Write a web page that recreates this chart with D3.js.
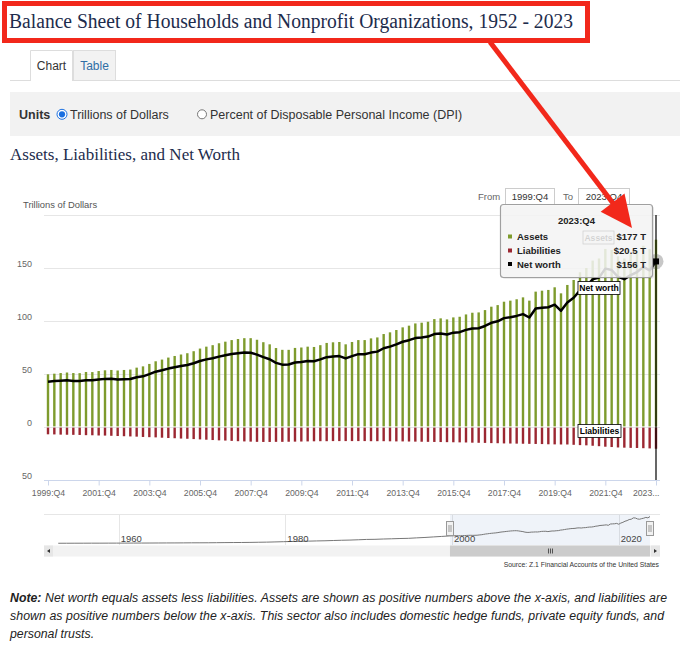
<!DOCTYPE html>
<html><head><meta charset="utf-8">
<script src="https://cdn.jsdelivr.net/npm/d3@7"></script>
<style>
body{margin:0;background:#fff;}
svg{display:block;font-family:"Liberation Sans",Arial,Helvetica,sans-serif;}
</style></head><body>
<svg id="c" width="680" height="653"></svg>
<script>
// ---------------- DATA ----------------
const startYear = 1999, startQ = 4, endYear = 2023, endQ = 4;
const quarters = [];
for (let y = startYear; y <= endYear; y++) for (let q = 1; q <= 4; q++) {
  if (y === startYear && q < startQ) continue;
  if (y === endYear && q > endQ) continue;
  quarters.push(y + ":Q" + q);
}
// Trillions of dollars, 1999:Q4 .. 2023:Q4
const assets = [49.7,50.3,50.9,51.4,50.9,50.8,51.9,51.8,52.8,53.5,
  53.8,53.3,53.8,54.2,56.0,57.2,59.5,62.0,63.6,65.5,
  67.0,68.4,69.6,71.5,74.0,75.8,77.2,79.0,80.5,82.0,
  83.0,83.8,83.8,82.3,80.0,78.0,74.5,72.8,72.8,74.6,
  75.0,75.8,75.5,77.2,79.3,79.9,80.2,78.0,80.2,82.0,
  82.0,83.6,84.5,87.7,89.3,91.5,94.0,95.6,97.7,98.4,
  99.3,101.8,102.5,101.5,103.4,104.0,106.2,107.8,108.1,110.3,
  113.5,115.0,118.2,119.2,120.5,122.3,119.2,127.7,128.6,129.3,
  131.8,126.1,134.0,138.7,146.0,150.0,157.0,159.0,168.0,167.0,
  161.0,159.0,163.0,166.0,171.0,168.0,176.7];
const liabilities = [6.9,7.0,7.2,7.3,7.4,
  7.5,7.7,7.8,8.0, 8.1,8.3,8.5,8.7, 8.9,9.1,9.4,9.6, 9.8,10.1,10.4,10.6,
  10.9,11.1,11.4,11.7, 12.0,12.3,12.6,12.8, 13.1,13.4,13.6,13.8, 14.0,14.1,14.1,14.0,
  14.0,13.9,13.8,13.7, 13.6,13.5,13.4,13.4, 13.3,13.3,13.3,13.3, 13.3,13.3,13.4,13.4,
  13.4,13.5,13.6,13.6, 13.7,13.8,13.9,14.0, 14.1,14.2,14.3,14.4, 14.5,14.6,14.8,14.9,
  15.0,15.2,15.3,15.5, 15.6,15.7,15.8,15.9, 16.0,16.1,16.3,16.4, 16.5,16.5,16.8,17.1,
  17.3,17.7,18.1,18.6, 18.9,19.3,19.5,19.7, 19.8,20.0,20.2,20.5];
const netWorth = [42.8,43.3,43.7,44.1,43.5,
  43.3,44.2,44.0,44.8, 45.4,45.5,44.8,45.1, 45.3,46.9,47.8,49.9, 52.2,53.5,55.1,56.4,
  57.5,58.5,60.1,62.3, 63.8,64.9,66.4,67.7, 68.9,69.6,70.2,70.0, 68.3,65.9,63.9,60.5,
  58.8,58.9,60.8,61.3, 62.2,62.0,63.8,65.9, 66.6,66.9,64.7,66.9, 68.7,68.7,70.2,71.1,
  74.3,75.8,77.9,80.4, 81.9,83.9,84.5,85.3, 87.7,88.3,87.2,89.0, 89.5,91.6,93.0,93.2,
  95.3,98.3,99.7,102.7, 103.6,104.8,106.5,103.3, 111.7,112.5,113.0,115.4, 109.6,117.5,121.9,128.9,
  132.7,139.3,140.9,149.4, 148.1,141.7,139.5,143.3, 146.2,151.0,147.8,156.2];
// navigator history (annual, Q4), 1952..1998
const historyYears = [1952,1953,1954,1955,1956,1957,1958,1959,1960,1961,1962,1963,1964,1965,1966,1967,
  1968,1969,1970,1971,1972,1973,1974,1975,1976,1977,1978,1979,1980,1981,1982,1983,1984,1985,1986,1987,
  1988,1989,1990,1991,1992,1993,1994,1995,1996,1997,1998];
const historyAssets = [1.6,1.7,1.9,2.0,2.2,2.2,2.4,2.5,2.6,2.8,2.9,3.1,3.3,3.6,3.7,4.1,
  4.5,4.6,4.8,5.3,5.9,6.3,6.6,7.2,8.1,9.0,10.3,11.8,13.3,14.4,15.4,16.8,17.9,19.6,21.3,22.5,
  24.4,26.7,27.4,29.4,30.9,32.6,33.9,36.9,39.6,43.1,46.4];
const xTickLabels = ["1999:Q4","2001:Q4","2003:Q4","2005:Q4","2007:Q4","2009:Q4","2011:Q4",
  "2013:Q4","2015:Q4","2017:Q4","2019:Q4","2021:Q4","2023:Q4"];
const yTicks = [-50,0,50,100,150,200];
const yLabelTicks = [-50,0,50,100,150];
const navYearTicks = [1960,1980,2000,2020];
const seriesNames = ["Assets","Liabilities","Net worth"];
const tooltipValues = ["$177 T","$20.5 T","$156 T"];

// ---------------- STYLE ----------------
const GREEN = "#7e9b2d", RED = "#9b2731", RED_MARK = "#f2281b", NAVY = "#1d2c4c";
const svg = d3.select("#c");
svg.append("rect").attr("width",680).attr("height",653).attr("fill","#fff");

// Title
svg.append("text").attr("x",9).attr("y",28)
  .attr("font-family","'Liberation Serif','DejaVu Serif',serif").attr("font-size",20)
  .attr("fill",NAVY).attr("textLength",564).attr("lengthAdjust","spacingAndGlyphs")
  .text("Balance Sheet of Households and Nonprofit Organizations, 1952 - 2023");

// Tabs
svg.append("line").attr("x1",10).attr("x2",680).attr("y1",80.5).attr("y2",80.5).attr("stroke","#ddd");
svg.append("rect").attr("x",30.5).attr("y",50.5).attr("width",42).attr("height",31).attr("fill","#fff").attr("stroke","none");
svg.append("path").attr("d","M30.5,81 V50.5 H72.5 V81").attr("fill","none").attr("stroke","#ddd");
svg.append("text").attr("x",51.5).attr("y",69.5).attr("text-anchor","middle").attr("font-size",12).attr("fill","#333").text("Chart");
svg.append("rect").attr("x",73.5).attr("y",50.5).attr("width",42).attr("height",30).attr("fill","#f2f2f2").attr("stroke","#ddd");
svg.append("text").attr("x",94.5).attr("y",69.5).attr("text-anchor","middle").attr("font-size",12).attr("fill","#2f6ea5").text("Table");

// Units bar
svg.append("rect").attr("x",10).attr("y",92).attr("width",670).attr("height",44).attr("fill","#f2f2f2");
svg.append("text").attr("x",19).attr("y",118.5).attr("font-size",12.5).attr("font-weight","bold").attr("fill","#333").text("Units");
svg.append("circle").attr("cx",62).attr("cy",114.3).attr("r",5).attr("fill","#fff").attr("stroke","#1a6fe0");
svg.append("circle").attr("cx",62).attr("cy",114.3).attr("r",3.1).attr("fill","#1a6fe0");
svg.append("text").attr("x",70).attr("y",118.5).attr("font-size",12.5).attr("fill","#333").text("Trillions of Dollars");
svg.append("circle").attr("cx",202).attr("cy",114.3).attr("r",4.5).attr("fill","#fff").attr("stroke","#777");
svg.append("text").attr("x",210).attr("y",118.5).attr("font-size",12.5).attr("fill","#333").text("Percent of Disposable Personal Income (DPI)");

// Subtitle
svg.append("text").attr("x",10).attr("y",160).attr("font-family","'Liberation Serif','DejaVu Serif',serif")
  .attr("font-size",17).attr("fill",NAVY).attr("textLength",230).attr("lengthAdjust","spacingAndGlyphs")
  .text("Assets, Liabilities, and Net Worth");

// ---------------- SCALES ----------------
const x = d3.scalePoint().domain(quarters).range([48,656]);
const y = d3.scaleLinear().domain([-50,200]).range([480,215]);
const PL = 44, PR = 660;

// axis title
svg.append("text").attr("x",23).attr("y",208).attr("font-size",9.4).attr("fill","#555").text("Trillions of Dollars");

// gridlines
svg.append("g").selectAll("line").data(yTicks.filter(d => d !== -50)).join("line")
  .attr("x1",PL).attr("x2",PR).attr("y1",d => Math.round(y(d))+0.5).attr("y2",d => Math.round(y(d))+0.5)
  .attr("stroke","#e6e6e6");

// y axis labels
const yAxis = svg.append("g").attr("transform","translate(32,0)")
  .call(d3.axisLeft(y).tickValues(yLabelTicks).tickSize(0).tickPadding(0).tickFormat(d => Math.abs(d)));
yAxis.select(".domain").remove();
yAxis.selectAll("text").attr("font-size",9).attr("fill","#666").attr("font-family","'Liberation Sans',Arial,sans-serif")
  .attr("dy",-1.5);

// bars
const barW = 2.4;
svg.append("g").selectAll("rect").data(quarters).join("rect")
  .attr("x",(d) => x(d)-barW/2).attr("width",barW)
  .attr("y",(d,i) => y(assets[i])).attr("height",(d,i) => y(0)-y(assets[i])-0.6)
  .attr("fill",GREEN);
svg.append("g").selectAll("rect").data(quarters).join("rect")
  .attr("x",(d) => x(d)-barW/2).attr("width",barW)
  .attr("y",y(0)+0.6).attr("height",(d,i) => y(-liabilities[i])-y(0)-0.6)
  .attr("fill",RED);

// x axis
svg.append("line").attr("x1",PL).attr("x2",PR).attr("y1",480.5).attr("y2",480.5).attr("stroke","#ccd6eb");
const xAxis = svg.append("g").attr("transform","translate(0,480.5)")
  .call(d3.axisBottom(x).tickValues(xTickLabels).tickSize(5).tickFormat(d => d === "2023:Q4" ? "2023..." : d));
xAxis.select(".domain").remove();
xAxis.selectAll("line").attr("stroke","#ccd6eb");
xAxis.selectAll("text").attr("font-size",8.7).attr("fill","#666").attr("font-family","'Liberation Sans',Arial,sans-serif")
  .attr("y",15).attr("dy",0);
xAxis.selectAll(".tick").filter(d => d === "2023:Q4").select("text").attr("text-anchor","end").attr("x",3);

// net worth line
svg.append("path").datum(quarters)
  .attr("d", d3.line().x(d => x(d)).y((d,i) => y(netWorth[i])))
  .attr("fill","none").attr("stroke","#000").attr("stroke-width",2.5).attr("stroke-linejoin","round");

// crosshair
const last = quarters[quarters.length-1];
svg.append("line").attr("x1",x(last)).attr("x2",x(last)).attr("y1",215).attr("y2",480)
  .attr("stroke","#000").attr("stroke-width",1.2);
// hover marker
svg.append("circle").attr("cx",x(last)).attr("cy",y(netWorth[netWorth.length-1])).attr("r",7.5)
  .attr("fill","rgba(70,70,70,0.3)");
svg.append("rect").attr("x",x(last)-3).attr("y",y(netWorth[netWorth.length-1])-3).attr("width",6).attr("height",6).attr("fill","#000");

// data labels
function dataLabel(cx, cy, txt, w){
  const g = svg.append("g");
  g.append("rect").attr("x",cx-w/2).attr("y",cy-6.5).attr("width",w).attr("height",13)
    .attr("fill","#fff").attr("stroke","#000").attr("stroke-width",0.8);
  g.append("text").attr("x",cx).attr("y",cy+3).attr("text-anchor","middle").attr("font-size",8.6)
    .attr("font-weight","bold").attr("fill","#000").text(txt);
}
dataLabel(599, 288, "Net worth", 42);
dataLabel(599.5, 431, "Liabilities", 43);
dataLabel(598.5, 237.5, "Assets", 31);

// From / To
svg.append("text").attr("x",478).attr("y",199.5).attr("font-size",9.5).attr("fill","#666").text("From");
svg.append("rect").attr("x",505.5).attr("y",188.5).attr("width",49).attr("height",16).attr("fill","#fff").attr("stroke","#ccc");
svg.append("text").attr("x",530).attr("y",199.5).attr("text-anchor","middle").attr("font-size",9.5).attr("fill","#333").text("1999:Q4");
svg.append("text").attr("x",563).attr("y",199.5).attr("font-size",9.5).attr("fill","#666").text("To");
svg.append("rect").attr("x",578.5).attr("y",188.5).attr("width",51).attr("height",16).attr("fill","#fff").attr("stroke","#ccc");
svg.append("text").attr("x",604).attr("y",199.5).attr("text-anchor","middle").attr("font-size",9.5).attr("fill","#333").text("2023:Q4");

// tooltip
const tt = svg.append("g");
tt.append("rect").attr("x",502).attr("y",206).attr("width",152).attr("height",73).attr("rx",3)
  .attr("fill","rgba(0,0,0,0.08)");
tt.append("rect").attr("x",500.5).attr("y",204.5).attr("width",152).attr("height",73).attr("rx",3)
  .attr("fill","rgba(247,247,247,0.85)").attr("stroke","#a0a0a0").attr("stroke-width",1.2);
tt.append("text").attr("x",576.5).attr("y",223.5).attr("text-anchor","middle").attr("font-size",9.5)
  .attr("font-weight","bold").attr("fill","#222").text(last);
const ttColors = [GREEN, RED, "#000"];
const rowY = [240, 254, 267.5];
seriesNames.forEach((n,i) => {
  tt.append("rect").attr("x",508).attr("y",rowY[i]-5.5).attr("width",4).attr("height",4).attr("fill",ttColors[i]);
  tt.append("text").attr("x",517).attr("y",rowY[i]).attr("font-size",9.5).attr("font-weight","bold").attr("fill","#222").text(n);
  tt.append("text").attr("x",646).attr("y",rowY[i]).attr("text-anchor","end").attr("font-size",9.5).attr("font-weight","bold").attr("fill","#222").text(tooltipValues[i]);
});

// ---------------- NAVIGATOR ----------------
const xn = d3.scaleLinear().domain([1952, 2023.75]).range([52, 650]);
const yn = d3.scaleLinear().domain([0, 177]).range([543.5, 516.5]);
svg.append("line").attr("x1",PL).attr("x2",PR).attr("y1",514.5).attr("y2",514.5).attr("stroke","#e6e6e6");
svg.append("g").selectAll("line").data(navYearTicks).join("line")
  .attr("x1",d => Math.round(xn(d))+0.5).attr("x2",d => Math.round(xn(d))+0.5).attr("y1",514).attr("y2",545)
  .attr("stroke","#e6e6e6");
const selX0 = xn(1999.75), selX1 = xn(2023.75);
svg.append("rect").attr("x",selX0).attr("y",514.5).attr("width",selX1-selX0).attr("height",30.5)
  .attr("fill","rgba(102,133,194,0.10)");
const navPts = historyYears.map((yr,i) => [yr+0.75, historyAssets[i]])
  .concat(quarters.map((q,i) => [+q.slice(0,4) + (+q.slice(6)-1)/4, assets[i]]));
svg.append("path").datum(navPts).attr("d", d3.line().x(d => xn(d[0])).y(d => yn(d[1])))
  .attr("fill","none").attr("stroke","#777").attr("stroke-width",1);
svg.append("g").selectAll("text").data(navYearTicks).join("text")
  .attr("x",d => xn(d)+2).attr("y",542).attr("font-size",9.5).attr("fill","#444").text(d => d);
[selX0, selX1].forEach(hx => {
  svg.append("rect").attr("x",Math.round(hx)-3.5).attr("y",521.5).attr("width",7).attr("height",14)
    .attr("fill","#f2f2f2").attr("stroke","#999");
  svg.append("line").attr("x1",Math.round(hx)-1).attr("x2",Math.round(hx)-1).attr("y1",525).attr("y2",532).attr("stroke","#999");
  svg.append("line").attr("x1",Math.round(hx)+1).attr("x2",Math.round(hx)+1).attr("y1",525).attr("y2",532).attr("stroke","#999");
});
// scrollbar
svg.append("rect").attr("x",PL).attr("y",545.5).attr("width",PR-PL).attr("height",11).attr("fill","#f2f2f2");
svg.append("rect").attr("x",selX0).attr("y",545.5).attr("width",selX1-selX0).attr("height",11).attr("fill","#cccccc");
[-2,0,2].forEach(dx => svg.append("line").attr("x1",(selX0+selX1)/2+dx+0.5).attr("x2",(selX0+selX1)/2+dx+0.5)
  .attr("y1",548.5).attr("y2",553.5).attr("stroke","#333").attr("stroke-width",0.8));
svg.append("rect").attr("x",PL).attr("y",545.5).attr("width",9).attr("height",11).attr("fill","#e6e6e6");
svg.append("rect").attr("x",PR-9).attr("y",545.5).attr("width",9).attr("height",11).attr("fill","#e6e6e6");
svg.append("path").attr("d",`M${PL+3},551 L${PL+6},549 L${PL+6},553 Z`).attr("fill","#333");
svg.append("path").attr("d",`M${PR-3},551 L${PR-6},549 L${PR-6},553 Z`).attr("fill","#333");

// source
svg.append("text").attr("x",659).attr("y",566.5).attr("text-anchor","end").attr("font-size",6.8).attr("fill","#333")
  .text("Source: Z.1 Financial Accounts of the United States");

// note
const noteLines = [
  "Net worth equals assets less liabilities. Assets are shown as positive numbers above the x-axis, and liabilities are",
  "shown as positive numbers below the x-axis. This sector also includes domestic hedge funds, private equity funds, and",
  "personal trusts."];
const noteLabel = svg.append("text").attr("x",10).attr("y",602).attr("font-size",12.3).attr("font-style","italic")
  .attr("font-weight","bold").attr("fill","#222").text("Note:");
const nlw = noteLabel.node().getComputedTextLength();
svg.append("text").attr("x",10+nlw+3.5).attr("y",602).attr("font-size",12.3).attr("font-style","italic").attr("fill","#222")
  .attr("textLength",657-nlw-3.5).attr("lengthAdjust","spacing").text(noteLines[0]);
svg.append("text").attr("x",10).attr("y",620).attr("font-size",12.3).attr("font-style","italic").attr("fill","#222")
  .attr("textLength",654).attr("lengthAdjust","spacing").text(noteLines[1]);
svg.append("text").attr("x",10).attr("y",638).attr("font-size",12.3).attr("font-style","italic").attr("fill","#222")
  .text(noteLines[2]);

// ---------------- ANNOTATION (red box + arrow) ----------------
svg.append("rect").attr("x",4.5).attr("y",3.5).attr("width",583).attr("height",37)
  .attr("fill","none").attr("stroke",RED_MARK).attr("stroke-width",5);
const a0 = [490, 42], tip = [632, 228];
const dx = tip[0]-a0[0], dy = tip[1]-a0[1], L = Math.hypot(dx,dy), ux = dx/L, uy = dy/L;
const hl = 32, hw = 15;
const base = [tip[0]-hl*ux, tip[1]-hl*uy];
svg.append("line").attr("x1",a0[0]).attr("y1",a0[1]).attr("x2",base[0]+2*ux).attr("y2",base[1]+2*uy)
  .attr("stroke",RED_MARK).attr("stroke-width",5);
svg.append("path").attr("d",`M${tip[0]},${tip[1]} L${base[0]-hw*uy},${base[1]+hw*ux} L${base[0]+hw*uy},${base[1]-hw*ux} Z`)
  .attr("fill",RED_MARK);
</script>
</body></html>
